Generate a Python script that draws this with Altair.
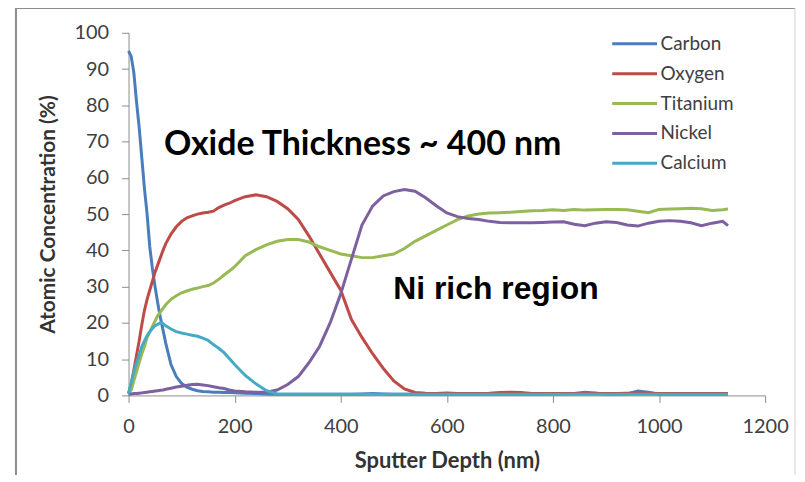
import altair as alt
import pandas as pd

depth = [0, 5, 10, 15, 20, 25, 30, 35, 40, 45, 50, 55, 60, 65, 70,
         80, 90, 100, 110, 120, 130, 140, 150, 160, 170, 180, 190, 200,
         220, 240, 260, 280, 300, 320, 340, 360, 380, 400, 420, 440, 460, 480,
         500, 520, 540, 560, 580, 600, 620, 640, 660, 680, 700, 720, 740, 760,
         780, 800, 820, 840, 860, 880, 900, 920, 940, 960, 980, 1000, 1020,
         1040, 1060, 1080, 1100, 1120, 1130]

carbon = [95, 93.5, 89, 81, 74, 65.5, 57, 50, 41, 35, 30, 25.5, 21.5, 18, 14.5,
          8.5, 5.2, 3.3, 2.3, 1.7, 1.3, 1.1, 1.0, 0.9, 0.9, 0.8, 0.8, 0.7,
          0.6, 0.5, 0.4, 0.3, 0.3, 0.3, 0.3, 0.3, 0.3, 0.3, 0.3, 0.4, 0.5, 0.4,
          0.3, 0.3, 0.3, 0.3, 0.3, 0.4, 0.3, 0.3, 0.3, 0.3, 0.3, 0.3, 0.3, 0.3,
          0.3, 0.4, 0.4, 0.5, 0.9, 0.7, 0.3, 0.3, 0.4, 1.2, 0.9, 0.3, 0.3,
          0.3, 0.3, 0.3, 0.3, 0.3, 0.3]

oxygen = [0.5, 3, 7, 11, 15, 19.5, 23.5, 26.5, 29, 31.5, 34, 36, 38, 40, 41.8,
          44.5, 46.5, 48, 49, 49.5, 50, 50.3, 50.5, 50.8, 51.8, 52.5, 53, 53.7,
          54.8, 55.3, 54.8, 53.5, 51.5, 48.5, 44, 39, 34, 29, 21, 16, 11.5, 7.5,
          4, 1.8, 0.8, 0.6, 0.5, 0.7, 0.5, 0.5, 0.5, 0.6, 0.8, 0.9, 0.8, 0.5,
          0.5, 0.5, 0.5, 0.5, 0.5, 0.5, 0.5, 0.5, 0.6, 0.7, 0.6, 0.5, 0.5,
          0.5, 0.5, 0.5, 0.5, 0.5, 0.5]

titanium = [0.5, 1.5, 4, 6.5, 9, 11.5, 13.5, 16, 17.5, 19, 20.5, 22, 23, 24, 25,
            26.5, 27.5, 28.3, 28.8, 29.3, 29.6, 30, 30.3, 31, 32, 33.2, 34.3, 35.5,
            38.5, 40.2, 41.5, 42.5, 43, 43, 42.3, 41, 40, 39, 38.5, 38, 38, 38.5,
            39, 40.5, 42.5, 44, 45.5, 47, 48.5, 49.5, 50, 50.3, 50.4, 50.5, 50.7, 50.9,
            51, 51.2, 51, 51.3, 51.1, 51.2, 51.3, 51.3, 51.2, 50.8, 50.4, 51.3, 51.4,
            51.5, 51.6, 51.5, 51, 51.2, 51.4]

nickel = [0.3, 0.4, 0.5, 0.5, 0.6, 0.7, 0.8, 0.9, 1.0, 1.1, 1.2, 1.3, 1.4, 1.5, 1.7,
          2.0, 2.3, 2.5, 2.8, 3.0, 3.1, 2.9, 2.7, 2.4, 2.1, 1.9, 1.5, 1.2,
          1.0, 0.9, 0.9, 1.5, 3, 5.2, 9, 13.5, 20, 28, 37.5, 47, 52.2, 55,
          56.2, 56.8, 56.3, 54.5, 52.3, 50.3, 49.3, 48.8, 48.5, 48, 47.7, 47.6, 47.6, 47.6,
          47.7, 47.8, 47.9, 47.2, 46.8, 47.5, 47.9, 47.7, 47, 46.7, 47.5, 48, 48.2,
          48, 47.6, 46.8, 47.5, 48, 46.8]

calcium = [0.5, 3.5, 6.5, 9, 11, 13.5, 15, 16.5, 17.5, 18.5, 19.2, 19.6, 20, 19.8, 19.2,
           18.3, 17.6, 17.2, 16.9, 16.6, 16.3, 15.8, 15.2, 14, 13, 11.8, 10.2, 8.5,
           5.5, 3.2, 1.3, 0.4, 0.3, 0.3, 0.3, 0.3, 0.3, 0.3, 0.3, 0.3, 0.3, 0.3,
           0.3, 0.3, 0.3, 0.3, 0.3, 0.3, 0.3, 0.3, 0.3, 0.3, 0.3, 0.3, 0.3, 0.3,
           0.3, 0.3, 0.3, 0.3, 0.3, 0.3, 0.3, 0.3, 0.3, 0.3, 0.3, 0.3, 0.3,
           0.3, 0.3, 0.3, 0.3, 0.3, 0.3]

series_names = ["Carbon", "Oxygen", "Titanium", "Nickel", "Calcium"]
series_values = [carbon, oxygen, titanium, nickel, calcium]
series_colors = ["#4A7EBB", "#BE4B48", "#98B954", "#7D60A0", "#46AAC5"]

x_ticks = [0, 200, 400, 600, 800, 1000, 1200]
y_ticks = [0, 10, 20, 30, 40, 50, 60, 70, 80, 90, 100]

annot_text = ["Oxide Thickness ~ 400 nm", "Ni rich region"]
annot_x = [67, 499]
annot_y = [66.4, 26.6]

frames = []
for i, (name, vals) in enumerate(zip(series_names, series_values)):
    frames.append(pd.DataFrame({"depth": depth, "value": vals,
                                "element": name, "k": i}))
df = pd.concat(frames, ignore_index=True)

x_scale = alt.Scale(domain=[0, 1200], nice=False)
y_scale = alt.Scale(domain=[0, 100], nice=False)

x_axis = alt.Axis(values=x_ticks, title="Sputter Depth (nm)",
                  format="d", labelFlush=False, labelOverlap=False,
                  titleX=319.5, titleY=65, titleBaseline="middle",
                  titleFontSize=22, labelPadding=14)
y_axis = alt.Axis(values=y_ticks, title="Atomic Concentration (%)",
                  format="d", labelFlush=False, labelOverlap=False,
                  titleX=-80, titleY=182, titleBaseline="middle",
                  titleFontSize=21, titleAngle=270, labelPadding=13)

lines = alt.Chart(df).mark_line(strokeWidth=3).encode(
    x=alt.X("depth:Q", scale=x_scale, axis=x_axis),
    y=alt.Y("value:Q", scale=y_scale, axis=y_axis),
    color=alt.Color("element:N",
                    scale=alt.Scale(domain=series_names, range=series_colors),
                    sort=series_names,
                    legend=alt.Legend(title=None, orient="none",
                                      legendX=493, legendY=-4,
                                      symbolType="M-1.667,0H1.667",
                                      symbolSize=729, symbolStrokeWidth=3,
                                      labelOffset=11, rowPadding=5,
                                      labelFont="Lato", labelFontSize=19,
                                      labelColor="#404040", padding=0)),
    order=alt.Order("depth:Q"),
)

ann_df = pd.DataFrame({"text": annot_text, "x": annot_x, "y": annot_y})
ann1 = alt.Chart(ann_df.iloc[[0]]).mark_text(
    font="Lato", fontWeight="bold", fontSize=34, align="left",
    baseline="alphabetic", color="#000000").encode(
    x=alt.X("x:Q", scale=x_scale, axis=x_axis),
    y=alt.Y("y:Q", scale=y_scale, axis=y_axis), text="text:N")
ann2 = alt.Chart(ann_df.iloc[[1]]).mark_text(
    font="Liberation Sans", fontWeight="bold", fontSize=32, align="left",
    baseline="alphabetic", color="#000000").encode(
    x=alt.X("x:Q", scale=x_scale, axis=x_axis),
    y=alt.Y("y:Q", scale=y_scale, axis=y_axis), text="text:N")

dummy = pd.DataFrame({"a": [0]})
frame_top = alt.Chart(dummy).mark_rule(color="#8c8c8c", strokeWidth=2).encode(
    x=alt.value(-113), x2=alt.value(669), y=alt.value(-25))
frame_left = alt.Chart(dummy).mark_rule(color="#8c8c8c", strokeWidth=2).encode(
    x=alt.value(-113), y=alt.value(-25), y2=alt.value(444))
frame_right = alt.Chart(dummy).mark_rule(color="#d0d0d0", strokeWidth=1).encode(
    x=alt.value(669), y=alt.value(-25), y2=alt.value(444))

chart = alt.layer(frame_top, frame_left, frame_right, lines, ann1, ann2).properties(
    width=639, height=364,
    autosize=alt.AutoSizeParams(type="none"),
    padding={"left": 121, "top": 24, "right": 32, "bottom": 80},
    background="white",
).configure_view(stroke=None).configure_axis(
    grid=False,
    labelOverlap=False,
    domainColor="#8c8c8c",
    tickColor="#8c8c8c",
    tickSize=7,
    labelFont="Lato",
    labelFontSize=20,
    labelColor="#404040",
    titleFont="Lato",
    titleFontWeight="bold",
    titleColor="#333333",
)

chart.save("out.html", embed_options={"renderer": "svg", "actions": False})
